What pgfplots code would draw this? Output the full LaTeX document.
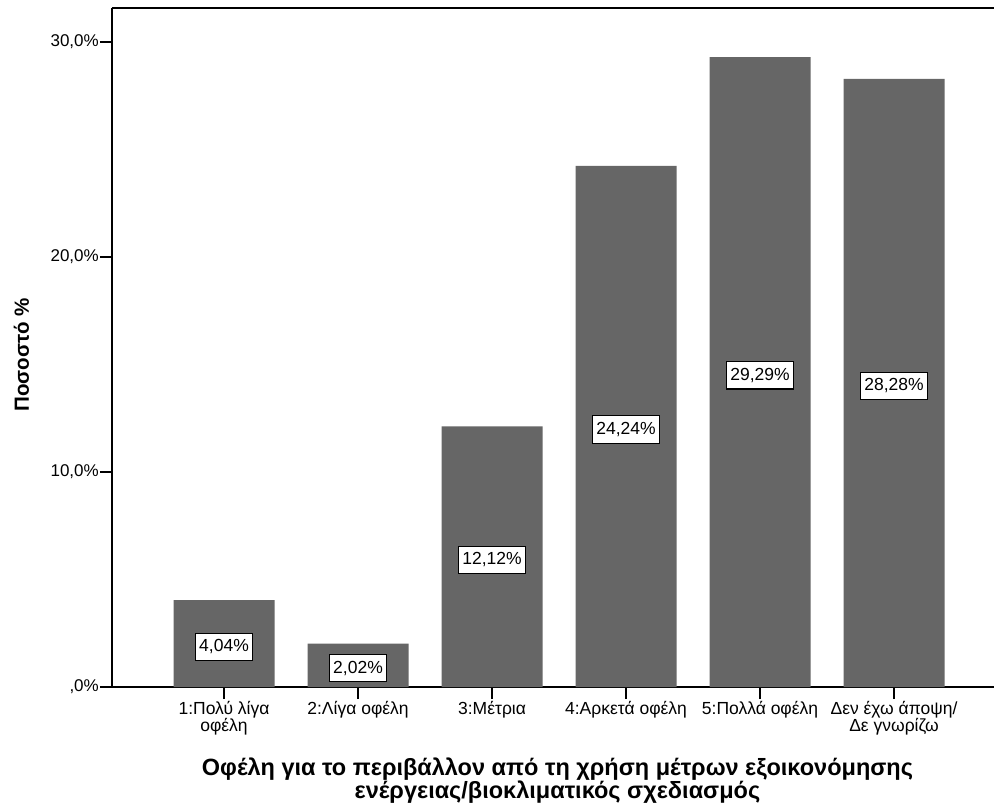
\documentclass[border=0pt]{standalone}
\usepackage{pgfplots}
\pgfplotsset{compat=1.18}
\usepackage{fontspec}
\setmainfont{Liberation Sans}
\definecolor{bargray}{HTML}{666666}
\begin{document}
\begin{tikzpicture}
\begin{axis}[
  scale only axis,
  width=882bp, height=679bp,
  xmin=-0.836, xmax=5.746,
  ymin=0, ymax=31.58,
  axis x line=box, axis y line=left,
  axis line style={-, line width=1.1bp, black},
  tick align=outside,
  major tick length=12bp,
  tick style={line width=1.1bp, black},
  xtick pos=bottom, ytick pos=left,
  xtick={0,1,2,3,4,5},
  xticklabels={{1:Πολύ λίγα\\οφέλη},{2:Λίγα οφέλη},{3:Μέτρια},{4:Αρκετά οφέλη},{5:Πολλά οφέλη},{Δεν έχω άποψη/\\Δε γνωρίζω}},
  xticklabel style={align=center, font=\fontsize{17.5bp}{17bp}\selectfont, inner sep=1bp, yshift=-1bp},
  ytick={0,10,20,30},
  yticklabels={{,0\%},{10,0\%},{20,0\%},{30,0\%}},
  yticklabel style={font=\fontsize{17bp}{18bp}\selectfont, inner sep=1bp},
  xlabel={Οφέλη για το περιβάλλον από τη χρήση μέτρων εξοικονόμησης\\ενέργειας/βιοκλιματικός σχεδιασμός},
  xlabel style={align=center, font=\bfseries\fontsize{23.5bp}{21bp}\selectfont, at={(axis description cs:0.505,0)}, anchor=north, yshift=-67bp},
  ylabel={Ποσοστό \%},
  ylabel style={font=\bfseries\fontsize{20.5bp}{22bp}\selectfont, at={(axis description cs:0,0.489)}, anchor=center, yshift=90.5bp},
  clip=false,
]
\coordinate (org) at (rel axis cs:0,0);
\addplot[ybar, bar width=101bp, fill=bargray, draw=none] coordinates {(0,4.04) (1,2.02) (2,12.12) (3,24.24) (4,29.29) (5,28.28)};
\addplot[draw=none, mark=none, nodes near coords, point meta=explicit symbolic,
  every node near coord/.append style={anchor=center, fill=white, draw=black, line width=1.1bp, inner xsep=3.5bp, inner ysep=6.5bp, font=\fontsize{17.5bp}{18bp}\selectfont}]
  coordinates {(0,1.87) [4,04\%] (1,0.88) [2,02\%] (2,5.91) [12,12\%] (3,11.97) [24,24\%] (4,14.50) [29,29\%] (5,14.0) [28,28\%]};
\end{axis}
\pgfresetboundingbox
\useasboundingbox ([shift={(-112bp,-120bp)}]org) rectangle ([shift={(882bp,687bp)}]org);
\end{tikzpicture}
\end{document}
